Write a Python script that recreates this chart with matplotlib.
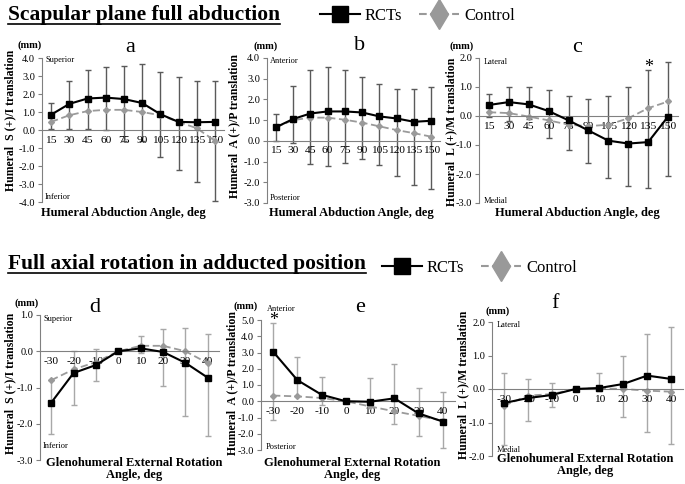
import matplotlib
matplotlib.use('Agg')
import matplotlib.pyplot as plt
import numpy as np
from matplotlib.lines import Line2D

plt.rcParams['font.family'] = ['Liberation Serif', 'DejaVu Serif']

# ---------------- data ----------------
abd_angles = ['15', '30', '45', '60', '75', '90', '105', '120', '135', '150']
rot_angles = ['-30', '-20', '-10', '0', '10', '20', '30', '40']

# a: Superior(+)/Inferior translation, abduction
a_rct = [0.85, 1.45, 1.75, 1.80, 1.72, 1.50, 0.88, 0.45, 0.43, 0.45]
a_ctl = [0.45, 0.82, 1.05, 1.12, 1.12, 1.00, 0.82, 0.45, 0.10, -0.60]
a_hi = [1.50, 2.72, 3.32, 3.50, 3.57, 3.65, 3.25, 2.97, 2.75, 2.75]
a_lo = [0.05, 0.05, 0.05, 0.00, -0.60, -0.60, -1.50, -2.20, -2.90, -3.95]

# b: Anterior(+)/Posterior translation, abduction
b_rct = [0.65, 1.05, 1.32, 1.42, 1.42, 1.37, 1.18, 1.08, 0.92, 0.97]
b_ctl = [0.65, 1.00, 1.12, 1.12, 1.02, 0.88, 0.70, 0.52, 0.37, 0.20]
b_hi = [1.30, 2.67, 3.42, 3.58, 3.40, 3.10, 2.75, 2.48, 2.48, 2.58]
b_lo = [0.00, -0.10, -1.10, -1.20, -1.05, -0.90, -1.15, -1.70, -2.15, -2.30]

# c: Lateral(+)/Medial translation, abduction
c_rct = [0.38, 0.48, 0.40, 0.17, -0.15, -0.50, -0.85, -0.95, -0.90, -0.02]
c_ctl = [0.13, 0.10, -0.02, -0.15, -0.30, -0.35, -0.30, -0.08, 0.27, 0.50]
c_hi = [0.75, 1.00, 1.00, 0.88, 0.70, 0.60, 0.68, 1.00, 1.60, 1.85]
c_lo = [-0.05, -0.17, -0.10, -0.75, -1.17, -1.63, -2.15, -2.40, -2.50, -2.07]

# d: Superior(+)/Inferior translation, rotation
d_rct = [-1.42, -0.60, -0.38, 0.00, 0.08, -0.02, -0.32, -0.73]
d_ctl = [-0.80, -0.50, -0.30, 0.00, 0.15, 0.15, 0.00, -0.33]
d_hi = [-0.80, 0.00, 0.07, 0.00, 0.42, 0.62, 0.65, 0.48]
d_lo = [-2.28, -1.47, -0.82, 0.00, -0.05, -0.97, -1.78, -2.35]

# e: Anterior(+)/Posterior translation, rotation
e_rct = [3.05, 1.30, 0.40, 0.00, -0.03, 0.18, -0.75, -1.25]
e_ctl = [0.35, 0.30, 0.20, 0.00, -0.32, -0.62, -0.90, -1.20]
e_hi = [4.80, 2.70, 1.50, 0.00, 1.42, 2.32, 0.80, 0.55]
e_lo = [-1.15, 0.30, -0.25, 0.00, -0.35, -1.38, -2.15, -2.85]

# f: Lateral(+)/Medial translation, rotation
f_rct = [-0.42, -0.27, -0.18, 0.00, 0.03, 0.15, 0.40, 0.30]
f_ctl = [-0.50, -0.20, -0.15, 0.00, 0.02, 0.00, -0.05, -0.08]
f_hi = [0.48, 0.30, 0.18, 0.00, 0.48, 1.00, 1.65, 1.85]
f_lo = [-1.68, -0.95, -0.55, 0.00, -0.05, -0.83, -1.28, -1.65]

# ---------------- figure ----------------
W, H = 685, 484
fig = plt.figure(figsize=(W / 100, H / 100), dpi=100)


def P(x, y):
    return (x / W, 1 - y / H)


def make_axes(left, top, right, bottom):
    return fig.add_axes([left / W, 1 - bottom / H, (right - left) / W, (bottom - top) / H])


def panel(box, cats, rct, ctl, hi, lo, ylim, ecol):
    ax = make_axes(*box)
    x = np.arange(len(cats))
    rct = np.array(rct)
    ax.errorbar(x, rct, yerr=[rct - np.array(lo), np.array(hi) - rct], fmt='none',
                ecolor=ecol, elinewidth=1.0, capsize=2.5, capthick=1.0, zorder=1)
    ax.plot(x, ctl, ls=(0, (4, 2)), color='#9a9a9a', lw=1.3, marker='D', ms=3,
            zorder=2)
    ax.plot(x, rct, color='black', lw=1.5, marker='s', ms=5, zorder=3)
    ax.set_xlim(-0.5, len(cats) - 0.5)
    ax.set_ylim(*ylim)
    yt = np.arange(ylim[0], ylim[1] + 0.5, 1.0)
    ax.set_yticks(yt)
    ax.set_yticklabels(['%.1f' % v for v in yt])
    ax.set_xticks(x)
    ax.set_xticklabels(cats)
    for s in ('top', 'right'):
        ax.spines[s].set_visible(False)
    ax.spines['left'].set_color('#808080')
    ax.spines['bottom'].set_color('#808080')
    ax.spines['bottom'].set_position(('data', 0))
    ax.tick_params(axis='x', length=0, pad=4, labelsize=8.2)
    ax.tick_params(axis='y', length=3, color='#808080', labelsize=7.5, pad=2)
    ax.patch.set_alpha(0)
    return ax


def ftext(x, y, s, **kw):
    fig.text(*P(x, y), s, **kw)


# top row
ax_a = panel((42, 58, 224, 202), abd_angles, a_rct, a_ctl, a_hi, a_lo, (-4, 4), '#5a5a5a')
ax_b = panel((267, 58, 440, 203), abd_angles, b_rct, b_ctl, b_hi, b_lo, (-3, 4), '#5a5a5a')
ax_c = panel((479, 58, 678, 203), abd_angles, c_rct, c_ctl, c_hi, c_lo, (-3, 2), '#5a5a5a')
# bottom row
ax_d = panel((40, 315, 219, 460), rot_angles, d_rct, d_ctl, d_hi, d_lo, (-3, 1), '#a8a8a8')
ax_e = panel((261, 320, 455, 450), rot_angles, e_rct, e_ctl, e_hi, e_lo, (-3, 5), '#a8a8a8')
ax_f = panel((492, 322, 683, 456), rot_angles, f_rct, f_ctl, f_hi, f_lo, (-2, 2), '#a8a8a8')

# asterisks
ax_c.text(abd_angles.index('135'), 1.68, '*', ha='center', va='center', fontsize=13)
ax_e.text(rot_angles.index('-30'), 4.95, '*', ha='center', va='center', fontsize=13)

# panel letters
for (x, y, s) in [(130, 47, 'a'), (360, 46, 'b'), (577, 47, 'c'),
                  (95, 307, 'd'), (360, 307, 'e'), (555, 303, 'f')]:
    ftext(x, y, s, fontsize=16, ha='center', va='center')

# (mm)
for (x, y) in [(30, 45), (266, 46), (462, 46), (27, 303), (246, 306), (498, 311)]:
    ftext(x, y, '(mm)', fontsize=7.5, fontweight='bold', ha='center', va='center')

# y labels
ylab = [(10, 120, 'Humeral  S (+)/I translation'),
        (234, 126, 'Humeral  A (+)/P translation'),
        (451, 132, 'Humeral  L (+)/M translation'),
        (10, 383, 'Humeral  S (+)/I translation'),
        (232, 383, 'Humeral  A (+)/P translation'),
        (463, 385, 'Humeral  L (+)/M translation')]
for x, y, s in ylab:
    ftext(x, y, s, fontsize=8.5, fontweight='bold', rotation=90, ha='center', va='center')

# x labels
for x in (123, 351, 577):
    ftext(x, 213, 'Humeral Abduction Angle, deg', fontsize=9, fontweight='bold',
          ha='center', va='center')
for x, y in [(134, 469), (352, 469), (585, 465)]:
    ftext(x, y, 'Glenohumeral External Rotation\nAngle, deg', fontsize=9,
          fontweight='bold', ha='center', va='center', linespacing=1.05)

# direction annotations
dirs = [(45, 60, 'Superior'), (45, 197, 'Inferior'),
        (270, 61, 'Anterior'), (270, 198, 'Posterior'),
        (484, 62, 'Lateral'), (484, 201, 'Medial'),
        (43, 319, 'Superior'), (43, 446, 'Inferior'),
        (267, 309, 'Anterior'), (266, 447, 'Posterior'),
        (497, 325, 'Lateral'), (497, 450, 'Medial')]
for x, y, s in dirs:
    ftext(x, y, s, fontsize=6, ha='left', va='center')

# titles with underline
titles = [(8, 15, 'Scapular plane full abduction'),
          (8, 264, 'Full axial rotation in adducted position')]
title_objs = []
for x, y, s in titles:
    t = fig.text(*P(x, y), s, fontsize=15.5, fontweight='bold', ha='left', va='center')
    title_objs.append(t)

fig.canvas.draw()
rend = fig.canvas.get_renderer()
for t in title_objs:
    bb = t.get_window_extent(rend).transformed(fig.transFigure.inverted())
    fig.add_artist(Line2D([bb.x0, bb.x1], [bb.y0 + 0.002, bb.y0 + 0.002], color='black',
                          lw=1.2, transform=fig.transFigure))

# legends
handles = [Line2D([0], [0], color='black', lw=1.5, marker='s', ms=11),
           Line2D([0], [0], color='#999999', ls='--', lw=1.5, marker='d', ms=15)]
labels = ['RCTs', 'Control']
for (x, y) in [(320, 16), (382, 268)]:
    fig.legend(handles, labels, loc='center left', bbox_to_anchor=P(x, y), ncol=2,
               frameon=False, handlelength=2.4, columnspacing=1.0, handletextpad=0.3,
               fontsize=12, borderaxespad=0, borderpad=0)

fig.savefig('out.png', dpi=100)
